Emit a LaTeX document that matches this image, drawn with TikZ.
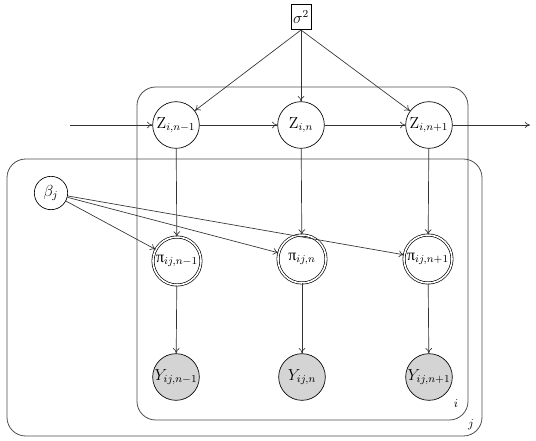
\documentclass[tikz,border=0pt]{standalone}
\usepackage{fontspec}
\newfontfamily\grk{Liberation Serif}
\usetikzlibrary{arrows.meta}
\begin{document}
\begin{tikzpicture}[x=0.75pt,y=-0.75pt,
  every node/.style={font=\large},
  var/.style={circle,draw,line width=0.5pt,minimum size=35pt,inner sep=0pt},
  obs/.style={var,fill=black!17},
  det/.style={circle,draw,double,double distance=1.2pt,line width=0.5pt,minimum size=36pt,inner sep=0pt},
  par/.style={draw,line width=0.5pt,minimum width=15pt,minimum height=19pt,inner sep=1pt},
  plate/.style={draw,line width=0.6pt,rounded corners=14pt,black!70},
  edge/.style={-{To[length=4pt,width=5pt]},line width=0.5pt,black!80}]
\useasboundingbox (0,0) rectangle (536,440);
% plates
\draw[plate] (137,87) rectangle (468,420);
\draw[plate] (7,159) rectangle (482,436);
\node[font=\small] (li) at (456,404) {$i$};
\node[font=\small] (lj) at (471,425) {$j$};
% nodes
\node[par] (s) at (301,17) {$\sigma^2$};
\node[var] (z1) at (176,125) {$\mathrm{Z}_{i,n-1}$};
\node[var] (z2) at (301,125) {$\mathrm{Z}_{i,n}$};
\node[var] (z3) at (429,125) {$\mathrm{Z}_{i,n+1}$};
\node[var,minimum size=25pt] (b) at (51,193) {$\beta_j$};
\node[det] (p1) at (177,261) {{\grk π}$_{ij,n-1}$};
\node[det] (p2) at (302,259) {{\grk π}$_{ij,n}$};
\node[det] (p3) at (428,259) {{\grk π}$_{ij,n+1}$};
\node[obs] (y1) at (176,377) {$Y_{ij,n-1}$};
\node[obs] (y2) at (302,377) {$Y_{ij,n}$};
\node[obs] (y3) at (429,377) {$Y_{ij,n+1}$};
\coordinate (in) at (70,125);
\coordinate (out) at (530,125);
% edges
\draw[edge] (s.south) -- (z1);
\draw[edge] (s.south) -- (z2);
\draw[edge] (s.south) -- (z3);
\draw[edge] (in) -- (z1);
\draw[edge] (z1) -- (z2);
\draw[edge] (z2) -- (z3);
\draw[edge] (z3) -- (out);
\draw[edge] (z1) -- (p1);
\draw[edge] (z2) -- (p2);
\draw[edge] (z3) -- (p3);
\draw[edge] (b) -- (p1);
\draw[edge] (b) -- (p2);
\draw[edge] (b) -- (p3);
\draw[edge] (p1) -- (y1);
\draw[edge] (p2) -- (y2);
\draw[edge] (p3) -- (y3);
\end{tikzpicture}
\end{document}
